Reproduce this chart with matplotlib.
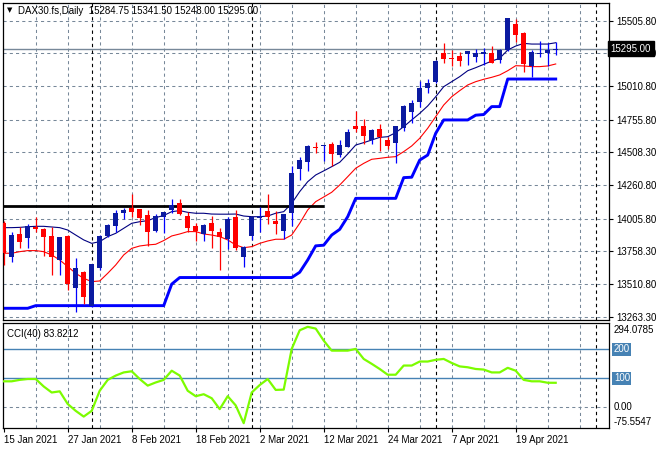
# DAX30 daily chart (MT4 style) with fast/slow MA, trailing stop and CCI(40)

import numpy as np
import pandas as pd
import matplotlib
matplotlib.use("Agg")
import matplotlib.pyplot as plt

plt.rcParams["font.family"] = ["Liberation Sans", "DejaVu Sans"]

# trading days (Good Friday / Easter Monday closed)
holidays = ["2021-04-02", "2021-04-05"]
dates = pd.bdate_range("2021-01-15", "2021-04-26").drop(pd.to_datetime(holidays))

opens = [13970, 13718, 13890, 13862, 13945, 13928, 13877, 13693, 13877, 13478,
         13600, 13345, 13630, 13877, 13953, 14046, 14089, 14077, 14034, 13913,
         14021, 14072, 14122, 14026, 13950, 13890, 13976, 13908, 13850, 14016,
         13718, 13875, 14014, 14064, 13988, 13915, 14047, 14382, 14433, 14547,
         14557, 14572, 14489, 14552, 14708, 14708, 14602, 14683, 14602, 14577,
         14691, 14812, 14887, 14994, 15039, 15264, 15223, 15238, 15251, 15228,
         15251, 15264, 15208, 15284, 15481, 15410, 15165, 15254, 15264, 15284.75]
highs = [13985, 13908, 13945, 13963, 14016, 13938, 13945, 13870, 13880, 13711,
         13610, 13662, 13882, 13965, 14072, 14089, 14190, 14080, 14072, 14039,
         14059, 14152, 14155, 14059, 13971, 13963, 14026, 13933, 14021, 14072,
         13800, 14020, 14097, 14193, 14064, 14045, 14408, 14476, 14564, 14590,
         14566, 14590, 14602, 14683, 14822, 14759, 14683, 14721, 14627, 14710,
         14867, 14905, 15049, 15062, 15208, 15339, 15284, 15271, 15280, 15289,
         15297, 15314, 15290, 15529, 15516, 15418, 15284, 15355, 15334, 15341.5]
lows = [13655, 13675, 13781, 13786, 13908, 13726, 13579, 13579, 13466, 13296,
        13357, 13340, 13617, 13870, 13908, 14001, 14021, 13958, 13802, 13908,
        13895, 14046, 14034, 13908, 13840, 13840, 13781, 13617, 13774, 13769,
        13637, 13845, 13908, 13966, 13890, 13850, 13951, 14299, 14370, 14506,
        14446, 14408, 14476, 14547, 14665, 14572, 14572, 14521, 14531, 14425,
        14673, 14728, 14855, 14961, 15031, 15183, 15165, 15163, 15170, 15196,
        15170, 15183, 15188, 15279, 15347, 15120, 15082, 15228, 15163, 15248]
closes = [13744, 13882, 13832, 13950, 13925, 13870, 13718, 13865, 13511, 13630,
          13415, 13660, 13875, 13958, 14046, 14072, 14054, 14009, 13908, 14029,
          14054, 14110, 14041, 13938, 13915, 13958, 13915, 13870, 14001, 13781,
          13794, 14016, 14026, 14016, 13963, 14039, 14350, 14451, 14557, 14542,
          14564, 14496, 14564, 14660, 14683, 14635, 14678, 14622, 14559, 14708,
          14860, 14880, 14994, 15036, 15201, 15213, 15218, 15203, 15276, 15259,
          15266, 15188, 15284, 15524, 15398, 15178, 15266, 15264, 15284, 15295]

ma_fast = [13938, 13938, 13940, 13945, 13948, 13948, 13943, 13938, 13920, 13882,
           13845, 13819, 13832, 13870, 13895, 13933, 13971, 13983, 13991, 14014,
           14030, 14059, 14067, 14054, 14047, 14047, 14041, 14040, 14040, 14041,
           14026, 14021, 14021, 14026, 14047, 14059, 14122, 14211, 14286, 14337,
           14368, 14400, 14433, 14496, 14564, 14582, 14602, 14622, 14627, 14658,
           14703, 14754, 14804, 14860, 14930, 15006, 15044, 15082, 15127, 15150,
           15175, 15200, 15221, 15284, 15314, 15334, 15329, 15329, 15329, 15339]
ma_slow = [13744, 13744, 13756, 13764, 13764, 13756, 13731, 13693, 13643, 13592,
           13554, 13529, 13534, 13592, 13655, 13731, 13781, 13799, 13807, 13812,
           13840, 13875, 13890, 13908, 13908, 13890, 13882, 13870, 13845, 13807,
           13786, 13794, 13819, 13837, 13850, 13850, 13882, 13971, 14072, 14135,
           14170, 14206, 14261, 14324, 14388, 14425, 14456, 14463, 14471, 14476,
           14514, 14557, 14615, 14691, 14779, 14867, 14930, 14976, 15019, 15044,
           15062, 15077, 15095, 15127, 15165, 15163, 15158, 15158, 15163, 15178]
trail = [13327, 13327, 13327, 13327, 13347, 13347, 13347, 13347, 13347, 13347,
         13347, 13347, 13347, 13347, 13347, 13347, 13347, 13347, 13347, 13347,
         13347, 13510, 13560, 13560, 13560, 13560, 13560, 13560, 13560, 13560,
         13560, 13560, 13560, 13560, 13560, 13560, 13560, 13600, 13693, 13800,
         13805, 13882, 13925, 14021, 14160, 14160, 14160, 14160, 14160, 14160,
         14317, 14320, 14450, 14488, 14653, 14754, 14754, 14754, 14754, 14790,
         14795, 14855, 14855, 15064, 15064, 15064, 15064, 15064, 15064, 15064]
cci = [89, 89, 94, 97, 97, 71, 50, 54, 10, -14,
       -34, -14, 56, 94, 109, 120, 124, 97, 74, 85,
       94, 126, 109, 56, 37, 44, 30, -8, 37, 5,
       -57, 50, 76, 97, 59, 60, 202, 267, 279, 273,
       231, 196, 196, 196, 202, 167, 150, 132, 112, 112,
       144, 144, 158, 158, 164, 167, 153, 141, 138, 132,
       130, 120, 120, 136, 126, 94, 89, 89, 84, 83.8212]

resistance = 14100
resistance_until = "2021-03-12"

price_ticks = [13263.30, 13510.80, 13758.30, 14005.80, 14260.80,
               14508.30, 14755.80, 15010.80, 15258.30, 15505.80]
cci_max = 294.0785
cci_min = -75.5547
cci_levels = [100, 200]

n = len(dates)
x = np.arange(n)
o = np.array(opens); h = np.array(highs); l = np.array(lows); c = np.array(closes)
up = c >= o
last = closes[-1]

grid_kw = dict(color="#778899", lw=0.75, ls=(0, (3, 3)))
sep_kw = dict(color="black", lw=0.8, ls=(0, (3, 3)))
fs = 7

fig = plt.figure(figsize=(6.6, 4.5), dpi=100)
ax = fig.add_axes([0.0038, 0.2878, 0.9189, 0.7066])
ax2 = fig.add_axes([0.0038, 0.0478, 0.9189, 0.2355], sharex=ax)

xmin, xmax = -0.15, 75.66
ax.set_xlim(xmin, xmax)

# grid: every 4 bars + month separators (incl. next month in empty space)
future = pd.bdate_range(dates[-1] + pd.Timedelta(days=1), periods=10)
full = dates.append(future)
seps = [i for i in range(1, len(full)) if full[i].month != full[i - 1].month]
for a in (ax, ax2):
    for i in range(4, int(xmax) + 1, 4):
        a.axvline(i, zorder=0, **grid_kw)
    for i in seps:
        if i < xmax:
            a.axvline(i, zorder=0.5, **sep_kw)

# main panel
ax.set_ylim(13234.5, 15643.7)
for p in price_ticks:
    ax.axhline(p, zorder=0, **grid_kw)
ax.axhline(last, color="#778899", lw=1, zorder=1)

ax.plot(x, trail, color="#0000ff", lw=2.1, zorder=2)
ax.plot(x, ma_slow, color="#ff0000", lw=0.8, zorder=2)
ax.plot(x, ma_fast, color="#000080", lw=0.8, zorder=2)
res_end = dates.get_loc(pd.Timestamp(resistance_until))
ax.hlines(resistance, xmin, res_end, color="black", lw=2, zorder=2)

ax.vlines(x[up], l[up], h[up], color="#0000ff", lw=0.9, zorder=3)
ax.vlines(x[~up], l[~up], h[~up], color="#ff0000", lw=0.9, zorder=3)
body = np.maximum(np.abs(c - o), 9)
bottom = np.minimum(o, c)
ax.bar(x[up], body[up], 0.62, bottom[up], color="#0b1aa0", zorder=4)
ax.bar(x[~up], body[~up], 0.62, bottom[~up], color="#ff0000", zorder=4)

ax.yaxis.tick_right()
ax.set_yticks(price_ticks)
ax.set_yticklabels([f"{p:.2f}" for p in price_ticks], fontsize=fs)
ax.tick_params(axis="y", length=3, pad=2, width=0.8)
ax.tick_params(axis="x", bottom=False, labelbottom=False)
ax.text(1.003, last, f"{last:.2f}", transform=ax.get_yaxis_transform(),
        ha="left", va="center", fontsize=fs, color="white", zorder=10,
        bbox=dict(boxstyle="square,pad=0.3", fc="black", ec="black"),
        clip_on=False)

ax.text(0.008, 0.987, "▼", transform=ax.transAxes, fontsize=5, va="top",
        family="DejaVu Sans")
ax.text(0.025, 0.99, "DAX30.fs,Daily  " + " ".join(f"{v:.2f}" for v in
        [opens[-1], highs[-1], lows[-1], closes[-1]]),
        transform=ax.transAxes, fontsize=fs, va="top")

# CCI panel
ax2.set_ylim(cci_min, cci_max)
ax2.axhline(0, zorder=0, **grid_kw)
for lv in cci_levels:
    ax2.axhline(lv, color="#4682b4", lw=1, zorder=1)
ax2.plot(x, cci, color="#7cfc00", lw=1.6, zorder=3)
ax2.set_yticks([])
ytr = ax2.get_yaxis_transform()
ax2.text(1.007, 0.93, f"{cci_max:.4f}", transform=ax2.transAxes, fontsize=fs, va="center")
ax2.text(1.007, 0.065, f"{cci_min:.4f}", transform=ax2.transAxes, fontsize=fs, va="center")
ax2.text(1.007, 0, "0.00", transform=ytr, fontsize=fs, va="center")
for lv in cci_levels:
    ax2.text(1.008, lv, str(lv), transform=ytr, fontsize=fs, va="center",
             color="white", bbox=dict(boxstyle="square,pad=0.15", fc="#4682b4", ec="none"))
ax2.text(0.008, 0.94, f"CCI(40) {cci[-1]:.4f}", transform=ax2.transAxes,
         fontsize=fs, va="top")

ticks = list(range(0, n, 8))
ax2.set_xticks(ticks)
ax2.set_xticklabels([f"{dates[i].day} {dates[i]:%b %Y}" for i in ticks],
                    fontsize=fs, ha="left")
ax2.tick_params(axis="x", length=3, pad=2, width=0.8)

for a in (ax, ax2):
    for s in a.spines.values():
        s.set_linewidth(0.9)

fig.savefig("out.png", dpi=100)
